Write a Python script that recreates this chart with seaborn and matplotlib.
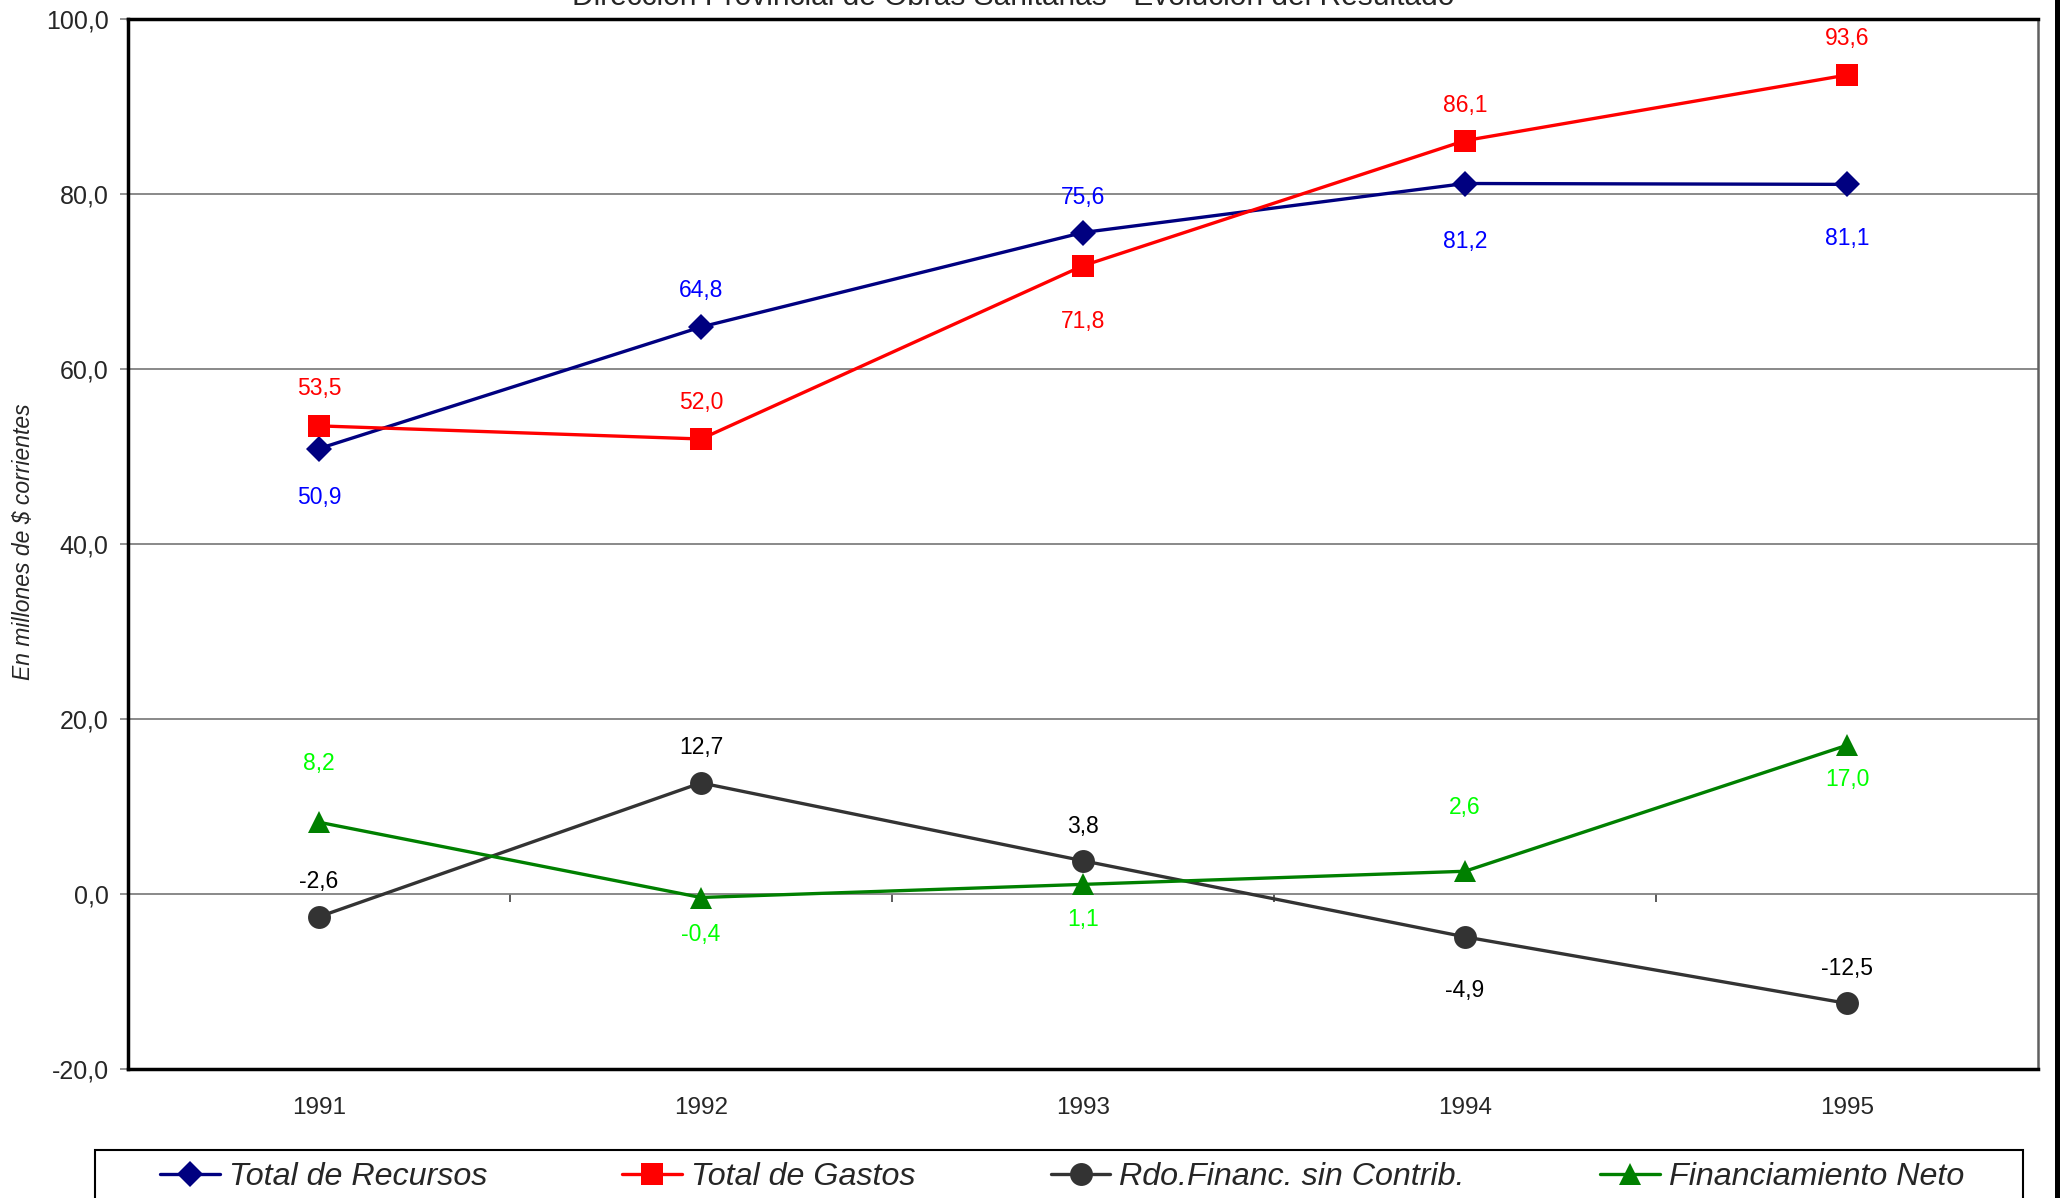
import matplotlib
matplotlib.use("Agg")
import matplotlib.pyplot as plt
import seaborn as sns
import pandas as pd
from matplotlib.patches import Rectangle
from matplotlib.ticker import FuncFormatter

# data (millones de $ corrientes)
years = ["1991", "1992", "1993", "1994", "1995"]
recursos = [50.9, 64.8, 75.6, 81.2, 81.1]
gastos = [53.5, 52.0, 71.8, 86.1, 93.6]
rdo_financ = [-2.6, 12.7, 3.8, -4.9, -12.5]
financiamiento = [8.2, -0.4, 1.1, 2.6, 17.0]

series_names = ["Total de Recursos", "Total de Gastos",
                "Rdo.Financ. sin Contrib.", "Financiamiento Neto"]

sns.set_style("white")
plt.rcParams['font.family'] = ['Liberation Sans', 'DejaVu Sans']

W, H = 2060, 1198
fig = plt.figure(figsize=(W / 100, H / 100), dpi=100)
ax = fig.add_axes([128 / W, 1 - 1069 / H, (2038 - 128) / W, (1069 - 19) / H])

pos = list(range(len(years)))
df = pd.DataFrame({"pos": pos, "rec": recursos, "gas": gastos,
                   "rdo": rdo_financ, "fin": financiamiento})

# styling per series: column, line colour, label colour, marker, size, label offsets (px)
styles = [
    ("rec", "#000080", "#0000FF", "D", 13.5, [-49, 37, 35, -58, -54]),
    ("gas", "#FF0000", "#FF0000", "s", 16, [37, 37, -56, 35, 37]),
    ("rdo", "#333333", "#000000", "o", 16.5, [35, 35, 34, -54, 35]),
    ("fin", "#008000", "#00FF00", "^", 16.5, [59, -37, -35, 64, -34]),
]

for (col, lc, tc, mk, ms, offs), name in zip(styles, series_names):
    sns.lineplot(data=df, x="pos", y=col, ax=ax, color=lc, marker=mk,
                 markersize=ms, markeredgecolor=lc, markeredgewidth=0,
                 linewidth=2.4, label=name, zorder=3)
    for x, v, off in zip(df["pos"], df[col], offs):
        ax.annotate(f"{v:.1f}".replace(".", ","), (x, v), xytext=(0, off),
                    textcoords="offset pixels", ha="center", va="center",
                    fontsize=16.5, color=tc)

ax.set_xlim(-0.5, len(years) - 0.5)
ax.set_ylim(-20, 100)
ax.set_yticks(range(-20, 101, 20))
ax.yaxis.set_major_formatter(FuncFormatter(lambda v, p: f"{v:.1f}".replace(".", ",")))
ax.set_xticks(pos)
ax.set_xticklabels(years)
ax.tick_params(axis="x", length=0, pad=20, labelsize=17.5)
ax.tick_params(axis="y", direction="out", length=6, width=1.2, color="#808080",
               pad=8, labelsize=18, left=True)
ax.grid(axis="y", color="#808080", linewidth=1.3)
ax.set_axisbelow(True)
ax.set_xlabel("")
ax.set_ylabel("")

for s in ["left", "top", "bottom"]:
    ax.spines[s].set_color("black")
    ax.spines[s].set_linewidth(2.5)
ax.spines["right"].set_color("#606060")
ax.spines["right"].set_linewidth(1.8)

# category ticks on the zero line
sec = ax.secondary_xaxis(20 / 120)
sec.set_xticks([0.5, 1.5, 2.5, 3.5])
sec.set_xticklabels([])
sec.tick_params(axis="x", direction="out", length=6, width=1.2, color="#404040")
sec.spines["bottom"].set_visible(False)
sec.spines["top"].set_visible(False)

fig.text(24 / W, 1 - 542 / H, "En millones de $ corrientes", rotation=90,
         ha="center", va="center", fontsize=16.5, style="italic")
fig.text(1013 / W, 1 - 5 / H,
         "Dirección Provincial de Obras Sanitarias - Evolución del Resultado",
         ha="center", va="baseline", fontsize=21.5)

ax.get_legend().remove()
handles, labels = ax.get_legend_handles_labels()
fig.legend(handles, labels, ncol=4, loc="center left",
           bbox_to_anchor=(160 / W, 1 - 1177 / H), bbox_transform=fig.transFigure,
           frameon=False, borderpad=0, borderaxespad=0, handlelength=1.85,
           handletextpad=0.28, columnspacing=4.2,
           prop={"size": 23.2, "style": "italic"})
fig.add_artist(Rectangle((95 / W, -0.01), (2023 - 95) / W, (1198 - 1150) / H + 0.01,
                         transform=fig.transFigure, fill=False,
                         edgecolor="black", linewidth=1.5))
fig.add_artist(Rectangle((2055 / W, 0), 5 / W, 1, transform=fig.transFigure,
                         facecolor="black", edgecolor="none"))

fig.savefig("out.png", dpi=100)
